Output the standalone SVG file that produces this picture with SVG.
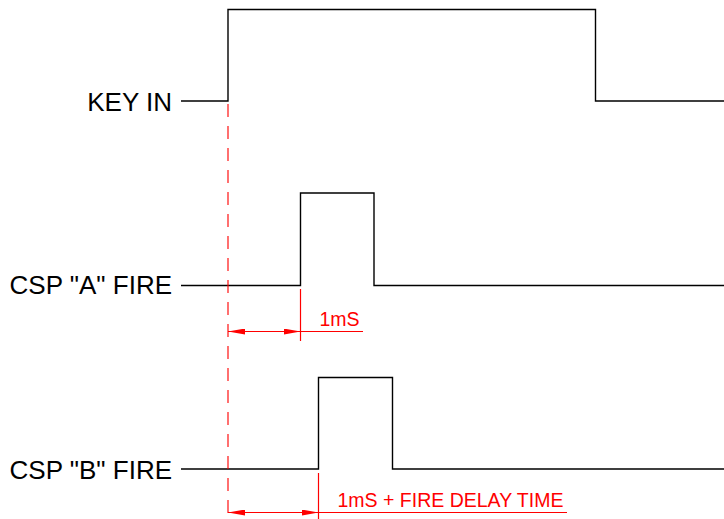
<svg xmlns="http://www.w3.org/2000/svg" width="724" height="519" viewBox="0 0 724 519">
<style>
.sig{fill:none;stroke:#000;stroke-width:1.4}
.lbl{font-family:"Liberation Sans",Arial,sans-serif;font-size:26px;fill:#000;text-anchor:end}
.dim{fill:none;stroke:#ff0000;stroke-width:1.2}
.dash{fill:none;stroke:#ff0000;stroke-width:1.4;stroke-dasharray:13 9;stroke-opacity:0.8}
.dtxt{font-family:"Liberation Sans",Arial,sans-serif;font-size:19.5px;fill:#ff0000}
</style>
<defs>
<marker id="arr" markerWidth="17" markerHeight="6" refX="17" refY="3" orient="auto-start-reverse" markerUnits="userSpaceOnUse">
<path d="M0,0 L17,3 L0,6 Z" fill="#ff0000"/>
</marker>
</defs>
<rect width="724" height="519" fill="#fff"/>
<g id="key-in">
<text class="lbl" x="172" y="110.5">KEY IN</text>
<polyline class="sig" points="181,101 228,101 228,9.5 595.5,9.5 595.5,101 724,101"/>
</g>
<g id="csp-a-fire">
<text class="lbl" x="172" y="294">CSP "A" FIRE</text>
<polyline class="sig" points="181,285.5 300.5,285.5 300.5,193 374,193 374,285.5 724,285.5"/>
</g>
<g id="csp-b-fire">
<text class="lbl" x="172" y="478.5">CSP "B" FIRE</text>
<polyline class="sig" points="181,469 318.5,469 318.5,377.5 392.5,377.5 392.5,469 724,469"/>
</g>
<g id="connectors">
<line class="dash" x1="228" y1="104" x2="228" y2="519"/>
<line class="dim" x1="300.5" y1="289" x2="300.5" y2="341"/>
<line class="dim" x1="228" y1="331.5" x2="300.5" y2="331.5" marker-start="url(#arr)" marker-end="url(#arr)"/>
<line class="dim" x1="300.5" y1="331.5" x2="363" y2="331.5"/>
<text class="dtxt" x="319.5" y="326">1mS</text>
<line class="dim" x1="318.5" y1="473" x2="318.5" y2="519"/>
<line class="dim" x1="228" y1="512.5" x2="318.5" y2="512.5" marker-start="url(#arr)" marker-end="url(#arr)"/>
<line class="dim" x1="318.5" y1="512.5" x2="567" y2="512.5"/>
<text class="dtxt" x="337.5" y="507">1mS + FIRE DELAY TIME</text>
</g>
</svg>
